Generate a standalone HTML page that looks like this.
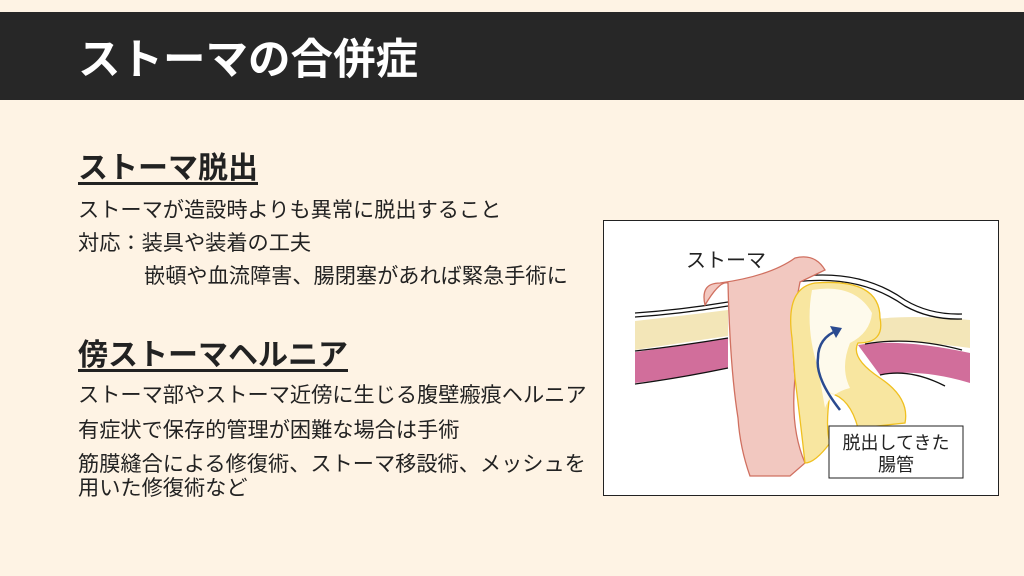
<!DOCTYPE html>
<html><head><meta charset="utf-8"><style>
body{margin:0;width:1024px;height:576px;background:#fef3e4;position:relative;overflow:hidden;font-family:"Liberation Sans","Noto Sans CJK JP",sans-serif;color:#222}
.bar{position:absolute;left:0;top:12px;width:1024px;height:88px;background:#272727}
.title{position:absolute;left:78px;top:35px;font-size:42.5px;font-weight:bold;color:#fff;line-height:52px}
.h{position:absolute;left:78px;font-size:30px;font-weight:bold;text-decoration:underline;text-underline-offset:4px;line-height:36px}
.t{position:absolute;left:78px;font-size:21.2px;line-height:26px;white-space:nowrap}
</style></head><body>
<div class="bar"></div>
<div class="title">ストーマの合併症</div>
<div class="h" style="top:151px">ストーマ脱出</div>
<div class="t" style="top:198px">ストーマが造設時よりも異常に脱出すること</div>
<div class="t" style="top:231px">対応：装具や装着の工夫</div>
<div class="t" style="top:264px;left:144px">嵌頓や血流障害、腸閉塞があれば緊急手術に</div>
<div class="h" style="top:338px">傍ストーマヘルニア</div>
<div class="t" style="top:383px">ストーマ部やストーマ近傍に生じる腹壁瘢痕ヘルニア</div>
<div class="t" style="top:418px">有症状で保存的管理が困難な場合は手術</div>
<div class="t" style="top:452px">筋膜縫合による修復術、ストーマ移設術、メッシュを</div>
<div class="t" style="top:476px">用いた修復術など</div>
<svg style="position:absolute;left:600px;top:218px" width="400" height="280" viewBox="0 0 400 280">
<rect x="3.5" y="2.5" width="395" height="275" fill="#fff" stroke="#222" stroke-width="1"/>
<path d="M35 103 Q80 98 128 92 L128 118 Q80 125 35 132Z" fill="#f3e6b8"/>
<path d="M35 134 Q80 128 128 120 L128 150 Q80 160 35 165Z" fill="#c9558a" opacity="0.85"/>
<path d="M35 95 Q80 92 128 84 M35 99 Q80 96 128 88 M35 133 Q80 128 128 120 M35 166 Q80 160 128 150" stroke="#111" stroke-width="1.3" fill="none"/>
<path d="M258 104 Q300 95 370 102 L370 130 Q300 120 258 125Z" fill="#f3e6b8"/>
<path d="M258 127 Q300 120 370 135 L370 165 Q320 150 280 157Z" fill="#c9558a" opacity="0.85"/>
<path d="M195 59 Q260 50 305 82 Q330 97 362 96 M195 64 Q260 56 305 88 Q330 102 362 101 M265 126 Q310 118 362 132 M280 157 Q310 150 345 168" stroke="#111" stroke-width="1.3" fill="none"/>
<path d="M105 87 Q100 65 120 65 Q170 58 195 40 Q215 35 225 52 L200 64 Q190 110 195 160 Q190 210 205 245 L190 258 L150 258 Q140 230 138 200 Q130 150 128 65 Q120 62 105 87Z" fill="#f2c8c0" stroke="#d07060" stroke-width="1.3"/>
<path d="M192 120 Q185 70 215 65 Q280 60 280 100 Q285 125 258 125 Q250 140 280 160 Q310 180 305 205 L258 210 Q250 180 230 175 Q225 210 230 225 Q215 245 205 245 Q200 200 195 160Z" fill="#f8e6a0" stroke="#f0c020" stroke-width="1.3"/>
<path d="M212 72 Q255 65 272 95 Q270 115 250 125 Q240 150 250 170 Q230 175 225 190 L218 150 Q205 110 212 72Z" fill="#fff" opacity="0.8"/>
<path d="M240 192 Q215 160 218 140 Q218 120 238 112" stroke="#2a4a90" stroke-width="2.5" fill="none"/>
<path d="M230 108 L242 110 L236 120Z" fill="#2a4a90"/>
<text x="86" y="49" font-size="20" font-family="Liberation Sans,Noto Sans CJK JP,sans-serif" fill="#222">ストーマ</text>
<rect x="229" y="208" width="134" height="52" fill="#fff" stroke="#222" stroke-width="1"/>
<text x="296" y="231" text-anchor="middle" font-size="18" font-family="Liberation Sans,Noto Sans CJK JP,sans-serif" fill="#222">脱出してきた</text>
<text x="296" y="253" text-anchor="middle" font-size="18" font-family="Liberation Sans,Noto Sans CJK JP,sans-serif" fill="#222">腸管</text>
</svg>
</body></html>
